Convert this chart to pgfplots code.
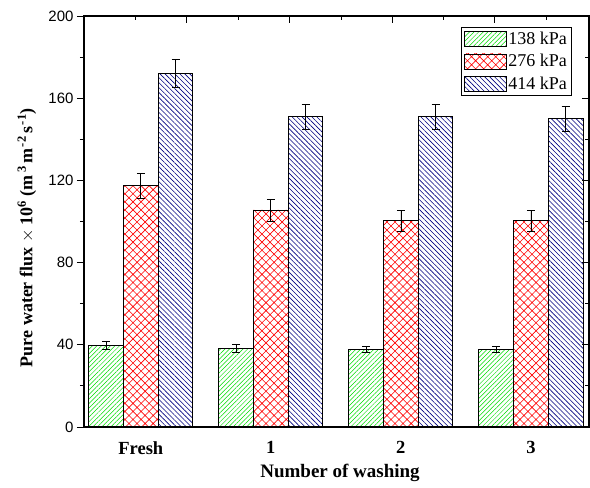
\documentclass[border=0pt]{standalone}
\usepackage{pgfplots}
\pgfplotsset{compat=1.18}
\usepackage{fontspec}
\setmainfont{Liberation Serif}
\newfontfamily\arial{Liberation Sans}
\usetikzlibrary{patterns.meta}
\definecolor{bargreen}{RGB}{0,220,0}
\definecolor{barred}{RGB}{255,0,0}
\definecolor{barblue}{RGB}{0,0,128}
\newcommand\sups[1]{\raisebox{0.8ex}{\fontsize{12.5}{13}\selectfont\bfseries #1}}
\begin{document}
\begin{tikzpicture}
\begin{axis}[
  name=main,
  scale only axis, width=505pt, height=411pt,
  xmin=-0.437, xmax=3.447, ymin=0, ymax=200,
  ybar, bar width=0.267,
  axis line style={line width=1.1pt},
  xtick={0,1,2,3}, xticklabels={Fresh,1,2,3},
  major x tick style={draw=none},
  xticklabel style={font=\fontsize{18.5}{20}\selectfont\bfseries, yshift=-4pt},
  ytick={0,40,...,200}, minor ytick={20,60,...,180},
  ytick pos=left, tick align=outside,
  major tick length=7pt, minor tick length=4pt,
  tick style={line width=1pt, black},
  yticklabel style={font=\fontsize{15}{18}\arial, /pgf/number format/assume math mode=true},
  ylabel={\bfseries Pure water flux {\mdseries$\times$} 10\sups{6} (m\hspace{2.5pt}\sups{3}\hspace{3pt}m\hspace{1.5pt}\sups{-2}\hspace{3pt}s\hspace{1.5pt}\sups{-1})},
  ylabel style={font=\fontsize{18}{20}\selectfont, at={(axis description cs:-0.113,0.46)}, anchor=center},
  xlabel={\bfseries Number of washing},
  xlabel style={font=\fontsize{19}{21}\selectfont, at={(axis description cs:0.507,-0.112)}, anchor=center},
  legend style={at={(0.966,0.973)}, anchor=north east, draw=black, line width=0.8pt,
    font=\fontsize{18}{20}\selectfont, row sep=4.5pt, inner sep=2.5pt},
  legend cell align=left,
  error bars/y dir=both, error bars/y explicit,
  error bars/error bar style={black, line width=0.7pt},
  error bars/error mark options={rotate=90, black, mark size=4pt, line width=0.7pt},
]
\addplot[draw=black, line width=0.9pt, bar shift=-0.267,
  pattern={Lines[angle=45,distance=3.2pt,line width=0.5pt]}, pattern color=bargreen,
  legend image code/.code={\draw[draw=black, line width=0.8pt, pattern={Lines[angle=45,distance=3.2pt,line width=0.5pt]}, pattern color=bargreen] (0pt,-7.5pt) rectangle (42pt,7.5pt);}]
  coordinates {(0,39.6) +- (0,2) (1,38.1) +- (0,2) (2,37.8) +- (0,1.5) (3,37.8) +- (0,1.5)};
\addlegendentry{138 kPa}
\addplot[draw=black, line width=0.9pt, bar shift=0,
  pattern={Hatch[angle=45,distance=5.7pt,line width=0.6pt]}, pattern color=barred,
  legend image code/.code={\draw[draw=black, line width=0.8pt, pattern={Hatch[angle=45,distance=5.7pt,line width=0.6pt]}, pattern color=barred] (0pt,-7.5pt) rectangle (42pt,7.5pt);}]
  coordinates {(0,117.3) +- (0,6) (1,105.6) +- (0,5.3) (2,100.4) +- (0,5) (3,100.4) +- (0,5)};
\addlegendentry{276 kPa}
\addplot[draw=black, line width=0.9pt, bar shift=0.267,
  pattern={Lines[angle=-45,distance=3.5pt,line width=0.6pt]}, pattern color=barblue,
  legend image code/.code={\draw[draw=black, line width=0.8pt, pattern={Lines[angle=-45,distance=3.5pt,line width=0.6pt]}, pattern color=barblue] (0pt,-7.5pt) rectangle (42pt,7.5pt);}]
  coordinates {(0,172.1) +- (0,6.8) (1,150.9) +- (0,6) (2,150.9) +- (0,6) (3,150.0) +- (0,6)};
\addlegendentry{414 kPa}
\end{axis}
\begin{axis}[
  scale only axis, width=505pt, height=411pt,
  xmin=-0.437, xmax=3.447, ymin=0, ymax=200,
  axis line style={line width=1.1pt},
  xtick={0.355,1.145,1.934,2.723}, minor xtick={-0.039,0.75,1.54,2.33,3.12},
  xtick pos=right, ytick pos=right, tick align=inside,
  ytick={0,40,...,200}, minor ytick={20,60,...,180},
  xticklabels={}, yticklabels={},
  major tick length=7pt, minor tick length=4pt,
  tick style={line width=1pt, black},
]
\end{axis}
\pgfresetboundingbox
\path (main.south west) ++(-84pt,-61pt) rectangle ++(590pt,488pt);
\end{tikzpicture}
\end{document}
